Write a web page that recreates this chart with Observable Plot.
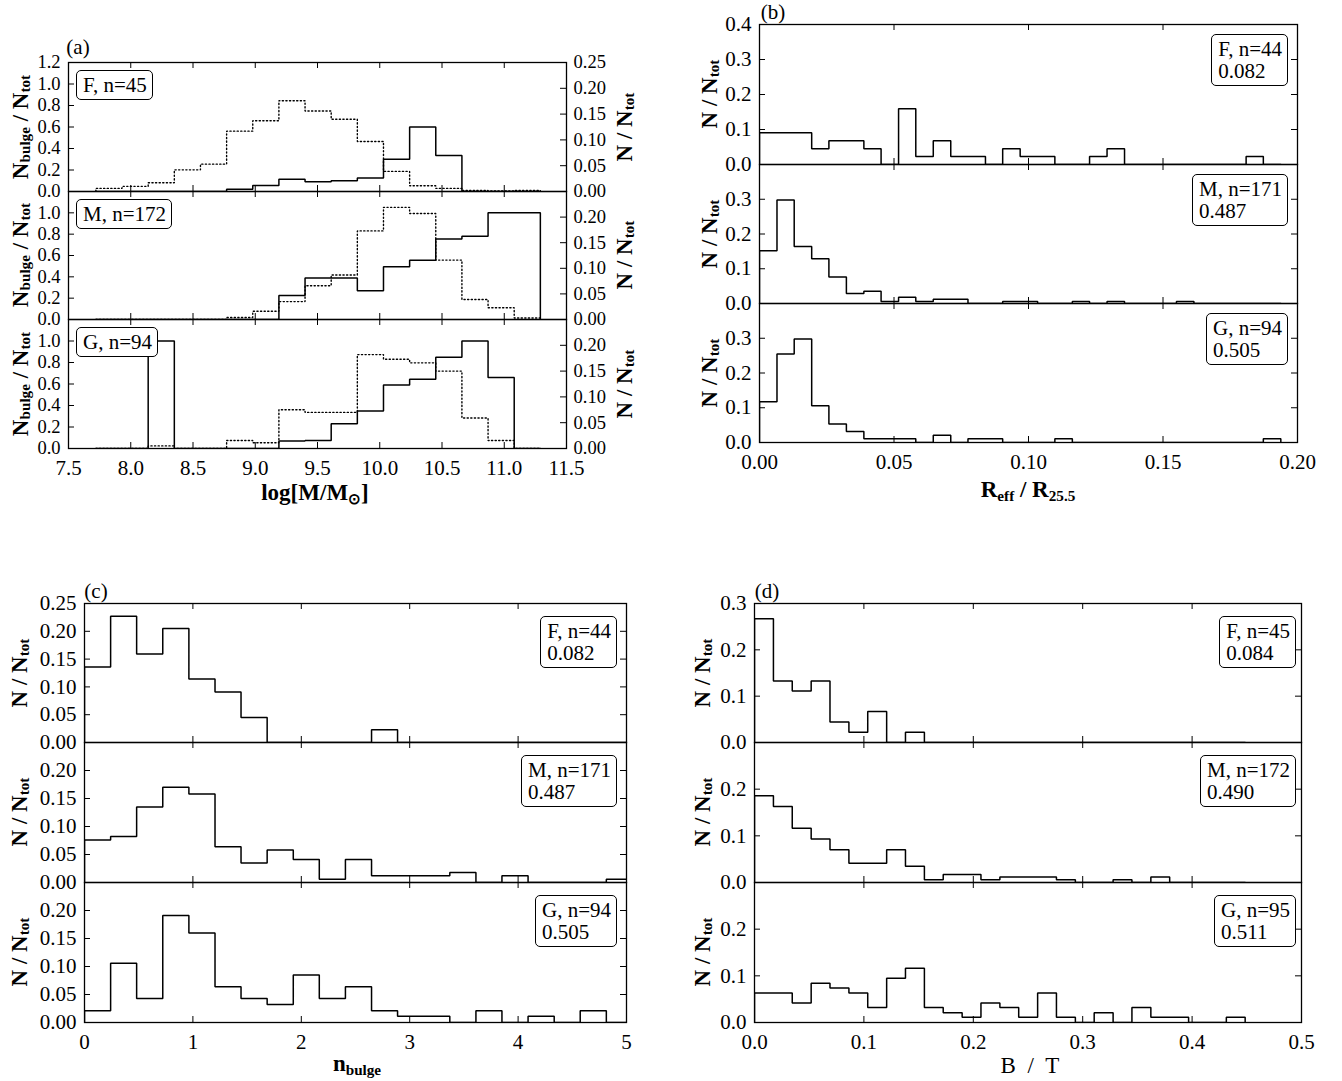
<!DOCTYPE html>
<html><head><meta charset="utf-8">
<script src="https://cdn.jsdelivr.net/npm/d3@7"></script>
<script src="https://cdn.jsdelivr.net/npm/@observablehq/plot@0.6"></script>
<style>
body{margin:0;background:#fff;}
#root{position:relative;width:1342px;height:1081px;font-family:"Liberation Serif","Times New Roman",serif;color:#000;overflow:hidden;}
#root svg{position:absolute;}
.lab{position:absolute;white-space:nowrap;font-size:23px;line-height:23px;}
.vl{writing-mode:vertical-rl;}
.pl{font-size:21px;}
.b{font-weight:bold;}
.sb{font-size:0.66em;vertical-align:-0.3em;line-height:0;}
.box{position:absolute;border:1.3px solid #000;border-radius:5px;padding:3px 5px 3px 6px;font-size:21px;line-height:22px;background:#fff;white-space:nowrap;}
</style></head><body><div id="root"></div>
<script>
// ---------------- DATA ----------------
// (a) stellar mass bins
const massEdges = [7.72, 7.93, 8.14, 8.35, 8.56, 8.77, 8.98, 9.19, 9.40, 9.61, 9.82, 10.03, 10.24, 10.45, 10.66, 10.87, 11.08, 11.29];
const massBulgeF = [0, 0, 0, 0, 0, 0.02, 0.055, 0.115, 0.09, 0.10, 0.125, 0.30, 0.60, 0.335, 0, 0, 0];
const massTotF   = [0.006, 0.010, 0.017, 0.042, 0.053, 0.117, 0.137, 0.176, 0.156, 0.140, 0.097, 0.039, 0.011, 0.006, 0.002, 0.001, 0.002];
const massBulgeM = [0, 0, 0, 0, 0, 0, 0, 0.225, 0.39, 0.39, 0.27, 0.495, 0.555, 0.755, 0.78, 1.0, 1.0];
const massTotM   = [0, 0, 0, 0, 0, 0.004, 0.016, 0.035, 0.066, 0.087, 0.173, 0.219, 0.207, 0.116, 0.039, 0.023, 0.003];
const massBulgeG = [0, 0, 1.0, 0, 0, 0, 0, 0.07, 0.075, 0.23, 0.35, 0.59, 0.645, 0.85, 1.0, 0.66, 0];
const massTotG   = [0, 0, 0.005, 0, 0, 0.0155, 0.011, 0.075, 0.070, 0.070, 0.182, 0.173, 0.166, 0.150, 0.059, 0.0155, 0];

// (b) Reff / R25.5 bins
const reffEdges = [0, 0.0065, 0.0129, 0.0194, 0.0258, 0.0323, 0.0388, 0.0452, 0.0517, 0.0581, 0.0646, 0.0711, 0.0775, 0.0840, 0.0904, 0.0969, 0.1034, 0.1098, 0.1163, 0.1227, 0.1292, 0.1357, 0.1421, 0.1486, 0.1550, 0.1615, 0.1680, 0.1744, 0.1809, 0.1873, 0.1938];
const reffF = [0.091, 0.091, 0.091, 0.045, 0.068, 0.068, 0.045, 0, 0.159, 0.023, 0.068, 0.023, 0.023, 0, 0.045, 0.023, 0.023, 0, 0, 0.023, 0.045, 0, 0, 0, 0, 0, 0, 0, 0.023, 0];
const reffM = [0.152, 0.298, 0.164, 0.129, 0.076, 0.029, 0.035, 0.006, 0.018, 0.006, 0.012, 0.012, 0, 0, 0.006, 0.006, 0, 0, 0.006, 0, 0.006, 0, 0, 0, 0.006, 0, 0, 0, 0, 0];
const reffG = [0.117, 0.255, 0.298, 0.106, 0.053, 0.032, 0.011, 0.011, 0.011, 0, 0.021, 0, 0.011, 0.011, 0, 0, 0, 0.011, 0, 0, 0, 0, 0, 0, 0, 0, 0, 0, 0, 0.011];

// (c) Sersic index bins
const nEdges = [0, 0.241, 0.481, 0.722, 0.963, 1.204, 1.444, 1.685, 1.926, 2.166, 2.407, 2.648, 2.888, 3.129, 3.370, 3.611, 3.851, 4.092, 4.333, 4.573, 4.814, 5.055];
const nF = [0.136, 0.227, 0.159, 0.205, 0.114, 0.091, 0.045, 0, 0, 0, 0, 0.023, 0, 0, 0, 0, 0, 0, 0, 0, 0];
const nM = [0.076, 0.082, 0.135, 0.170, 0.158, 0.064, 0.035, 0.058, 0.041, 0.006, 0.041, 0.012, 0.012, 0.012, 0.018, 0, 0.012, 0, 0, 0, 0.006];
const nG = [0.021, 0.106, 0.043, 0.191, 0.160, 0.064, 0.043, 0.032, 0.085, 0.043, 0.064, 0.021, 0.011, 0.011, 0, 0.021, 0, 0.011, 0, 0.021, 0];

// (d) B/T bins
const btEdges = [0, 0.0173, 0.0345, 0.0518, 0.0690, 0.0863, 0.1035, 0.1208, 0.1380, 0.1553, 0.1725, 0.1898, 0.2070, 0.2243, 0.2415, 0.2588, 0.2760, 0.2933, 0.3105, 0.3278, 0.3450, 0.3623, 0.3795, 0.3968, 0.4140, 0.4313, 0.4485];
const btF = [0.267, 0.133, 0.111, 0.133, 0.044, 0.022, 0.067, 0, 0.022, 0, 0, 0, 0, 0, 0, 0, 0, 0, 0, 0, 0, 0, 0, 0, 0, 0];
const btM = [0.186, 0.163, 0.116, 0.093, 0.070, 0.041, 0.041, 0.070, 0.035, 0.006, 0.017, 0.017, 0.006, 0.012, 0.012, 0.012, 0.006, 0, 0, 0.006, 0, 0.012, 0, 0, 0, 0];
const btG = [0.063, 0.063, 0.042, 0.084, 0.074, 0.063, 0.032, 0.095, 0.116, 0.032, 0.021, 0.011, 0.042, 0.032, 0.011, 0.063, 0.011, 0, 0.021, 0, 0.032, 0.011, 0.011, 0, 0, 0.011];

// labels
const boxA = ["F, n=45", "M, n=172", "G, n=94"];
const boxB = [["F, n=44", "0.082"], ["M, n=171", "0.487"], ["G, n=94", "0.505"]];
const boxC = [["F, n=44", "0.082"], ["M, n=171", "0.487"], ["G, n=94", "0.505"]];
const boxD = [["F, n=45", "0.084"], ["M, n=172", "0.490"], ["G, n=95", "0.511"]];

// ticks
const ticksMassX = [7.5, 8.0, 8.5, 9.0, 9.5, 10.0, 10.5, 11.0, 11.5];
const ticksFracY = [0, 0.2, 0.4, 0.6, 0.8, 1.0, 1.2];
const ticksTotRightY = [0, 0.05, 0.10, 0.15, 0.20, 0.25];
const ticksReffX = [0, 0.05, 0.10, 0.15, 0.20];
const ticksReffY = [0, 0.1, 0.2, 0.3, 0.4];
const ticksNX = [0, 1, 2, 3, 4, 5];
const ticksNY = [0, 0.05, 0.10, 0.15, 0.20, 0.25];
const ticksBtX = [0, 0.1, 0.2, 0.3, 0.4, 0.5];
const ticksBtY = [0, 0.1, 0.2, 0.3];

// ---------------- RENDER ----------------
const root = document.getElementById("root");
const FONT = "'Liberation Serif','Times New Roman',serif";

function stepPoints(edges, vals) {
  const pts = [{x: edges[0], v: 0}];
  vals.forEach((v, i) => pts.push({x: edges[i], v}));
  pts.push({x: edges[vals.length], v: vals[vals.length - 1]});
  pts.push({x: edges[vals.length], v: 0});
  return pts;
}

function subplot(c) {
  const w = c.fx1 - c.fx0, h = c.fy1 - c.fy0;
  const mL = 70, mR = c.right ? 70 : 12, mT = 10, mB = c.showX ? 40 : 10;
  const marks = [];
  for (const s of c.series) {
    const k = s.k || 1;
    marks.push(Plot.line(stepPoints(s.edges, s.values), {
      x: "x", y: d => d.v * k, curve: "step-after", stroke: "#000",
      strokeWidth: s.dash ? 1.4 : 1.5, strokeDasharray: s.dash || null, strokeLinejoin: "miter", clip: true
    }));
  }
  const xin = c.xTicks.filter(t => t > c.xDomain[0] + 1e-9 && t < c.xDomain[1] - 1e-9);
  const yin = c.yTicks.filter(t => t > c.yDomain[0] + 1e-9 && t < c.yDomain[1] - 1e-9);
  marks.push(Plot.tickX(xin, {x: d => d, insetTop: h - 6, stroke: "#000", strokeWidth: 1}));
  marks.push(Plot.tickX(xin, {x: d => d, insetBottom: h - 6, stroke: "#000", strokeWidth: 1}));
  marks.push(Plot.tickY(yin, {y: d => d, insetRight: w - 6, stroke: "#000", strokeWidth: 1}));
  if (c.right) {
    const rin = c.right.ticks.map(t => t * c.right.k).filter(t => t > 1e-9 && t < c.yDomain[1] - 1e-9);
    marks.push(Plot.tickY(rin, {y: d => d, insetLeft: w - 6, stroke: "#000", strokeWidth: 1}));
    const rlab = c.right.ticks.filter(t => c.top || t < c.right.ticks[c.right.ticks.length - 1] - 1e-9).map(t => t * c.right.k);
    marks.push(Plot.axisY(rlab, {anchor: "right", tickSize: 0, tickPadding: 7, tickFormat: d => (d / c.right.k).toFixed(2), label: null}));
  } else {
    marks.push(Plot.tickY(yin, {y: d => d, insetLeft: w - 6, stroke: "#000", strokeWidth: 1}));
  }
  const ylab = c.yTicks.filter(t => c.top || t < c.yDomain[1] - 1e-9);
  marks.push(Plot.axisY(ylab, {anchor: "left", tickSize: 0, tickPadding: 8, tickFormat: c.yFmt, label: null}));
  if (c.showX) marks.push(Plot.axisX(c.xTicks, {anchor: "bottom", tickSize: 0, tickPadding: 12, tickFormat: c.xFmt, label: null, fontSize: 21}));
  marks.push(Plot.frame({stroke: "#000", strokeWidth: 1.3}));
  const svg = Plot.plot({
    width: mL + w + mR, height: mT + h + mB,
    marginLeft: mL, marginRight: mR, marginTop: mT, marginBottom: mB,
    x: Object.assign({domain: c.xDomain, label: null}, c.showX ? {} : {axis: null}),
    y: {domain: c.yDomain, label: null},
    style: `background:transparent;overflow:visible;font-family:${FONT};font-size:${c.fs || 21}px;color:#000;`,
    marks
  });
  svg.style.left = (c.fx0 - mL) + "px";
  svg.style.top = (c.fy0 - mT) + "px";
  root.appendChild(svg);
}

function label(html, cx, cy, rot, cls) {
  const d = document.createElement("div");
  d.className = "lab " + (cls || "") + (rot ? " vl" : "");
  d.innerHTML = html;
  d.style.left = cx + "px"; d.style.top = cy + "px";
  d.style.transform = "translate(-50%,-50%)" + (rot ? " rotate(180deg)" : "");
  root.appendChild(d);
}
function box(lines, pos) {
  const d = document.createElement("div");
  d.className = "box";
  d.innerHTML = lines.join("<br>");
  if (pos.left != null) d.style.left = pos.left + "px";
  if (pos.right != null) d.style.right = (1342 - pos.right) + "px";
  d.style.top = pos.top + "px";
  root.appendChild(d);
}

const f1 = d3.format(".1f"), f2 = d3.format(".2f");
const NTOT = 'N<span class="sb">tot</span>';
const kA = 1.2 / 0.25;

// Panel (a)
const aRows = [[62, 191], [191, 319], [319, 448]];
const aData = [[massBulgeF, massTotF], [massBulgeM, massTotM], [massBulgeG, massTotG]];
aRows.forEach(([t, b], i) => {
  subplot({fx0: 68, fx1: 566, fy0: t, fy1: b, xDomain: [7.5, 11.5], yDomain: [0, 1.2], fs: 18.5,
    xTicks: ticksMassX, yTicks: ticksFracY, yFmt: f1, xFmt: f1, top: i === 0, showX: i === 2,
    right: {ticks: ticksTotRightY, k: kA},
    series: [{edges: massEdges, values: aData[i][1], k: kA, dash: "1.2,2.4"}, {edges: massEdges, values: aData[i][0]}]});
  label('N<span class="sb">bulge</span> / ' + NTOT, 20, (t + b) / 2, true, "b");
  label('N / ' + NTOT, 624, (t + b) / 2, true, "b");
  box([boxA[i]], {left: 76, top: t + 8});
});
label("(a)", 78, 47, false, "pl");
label('log[M/M<span class="sb">⊙</span>]', 315, 492, false, "b");

// Panel (b)
const bRows = [[24, 164], [164, 303], [303, 442]];
const bData = [reffF, reffM, reffG];
bRows.forEach(([t, b], i) => {
  subplot({fx0: 759, fx1: 1297, fy0: t, fy1: b, xDomain: [0, 0.2], yDomain: [0, 0.4],
    xTicks: ticksReffX, yTicks: ticksReffY, yFmt: f1, xFmt: f2, top: i === 0, showX: i === 2,
    series: [{edges: reffEdges, values: bData[i]}]});
  label('N / ' + NTOT, 709, (t + b) / 2, true, "b");
  box(boxB[i], {right: 1288, top: t + 10});
});
label("(b)", 773, 12, false, "pl");
label('R<span class="sb">eff</span> / R<span class="sb">25.5</span>', 1028, 489, false, "b");

// Panel (c)
const cRows = [[603, 742], [742, 882], [882, 1022]];
const cData = [nF, nM, nG];
cRows.forEach(([t, b], i) => {
  subplot({fx0: 84, fx1: 626, fy0: t, fy1: b, xDomain: [0, 5], yDomain: [0, 0.25],
    xTicks: ticksNX, yTicks: ticksNY, yFmt: f2, xFmt: d3.format("d"), top: i === 0, showX: i === 2,
    series: [{edges: nEdges, values: cData[i]}]});
  label('N / ' + NTOT, 19, (t + b) / 2, true, "b");
  box(boxC[i], {right: 617, top: t + 13});
});
label("(c)", 96, 591, false, "pl");
label('n<span class="sb">bulge</span>', 357, 1063, false, "b");

// Panel (d)
const dRows = [[603, 742], [742, 882], [882, 1022]];
const dData = [btF, btM, btG];
dRows.forEach(([t, b], i) => {
  subplot({fx0: 754, fx1: 1301, fy0: t, fy1: b, xDomain: [0, 0.5], yDomain: [0, 0.3],
    xTicks: ticksBtX, yTicks: ticksBtY, yFmt: f1, xFmt: f1, top: i === 0, showX: i === 2,
    series: [{edges: btEdges, values: dData[i]}]});
  label('N / ' + NTOT, 702, (t + b) / 2, true, "b");
  box(boxD[i], {right: 1296, top: t + 13});
});
label("(d)", 767, 591, false, "pl");
label('B &nbsp;/ &nbsp;T', 1030, 1065, false, "");
</script>
</body></html>
